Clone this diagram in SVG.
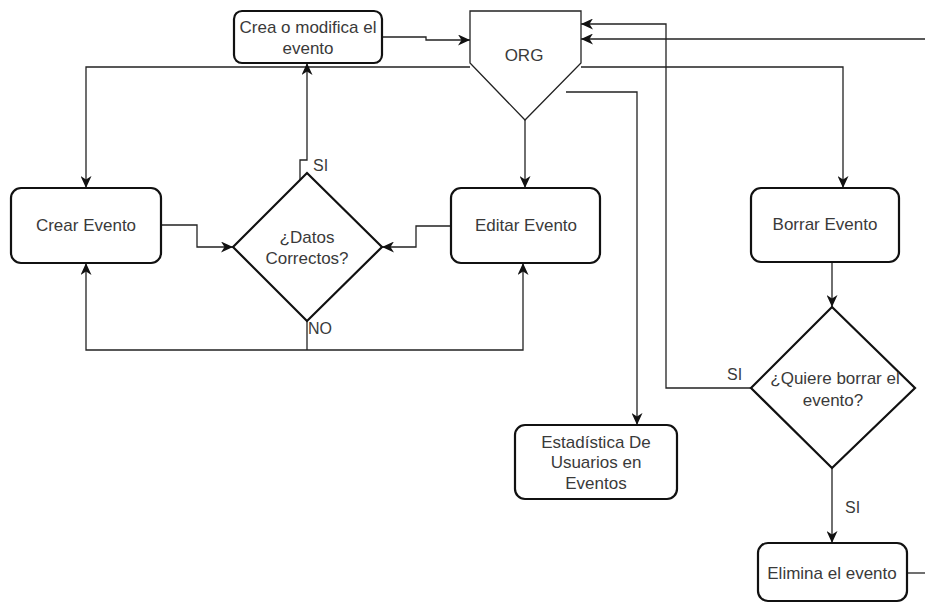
<svg xmlns="http://www.w3.org/2000/svg" width="925" height="603" viewBox="0 0 925 603">
<defs>
<marker id="arr" markerUnits="userSpaceOnUse" markerWidth="13" markerHeight="11" viewBox="0 0 13 11" refX="12" refY="5.5" orient="auto">
<path d="M0,0 L12,5.5 L0,11 L3.5,5.5 z" fill="#111"/>
</marker>
<style>
.box{fill:#fff;stroke:#111;stroke-width:2.2}
.shape{fill:#fff;stroke:#111;stroke-width:2.2}
.org{fill:#fff;stroke:#222;stroke-width:1.3}
.t{font-family:"Liberation Sans",Arial,sans-serif;font-size:17px;fill:#3a3a3a;text-anchor:middle}
.lbl{font-family:"Liberation Sans",Arial,sans-serif;font-size:16px;fill:#3a3a3a}
.c{fill:none;stroke:#222;stroke-width:1.3}
.ca{fill:none;stroke:#222;stroke-width:1.3;marker-end:url(#arr)}
</style>
</defs>
<rect width="925" height="603" fill="#fff"/>
<g id="connectors">
<path class="ca" d="M382,37 H426 V40 H470"/>
<path class="ca" d="M470,67 H86 V188"/>
<path class="ca" d="M581,67 H843 V188"/>
<path class="ca" d="M525,120 V188"/>
<path class="ca" d="M566,92 H637 V425"/>
<path class="ca" d="M161,225 H197 V247 H233"/>
<path class="ca" d="M451,226 H416 V247 H382"/>
<path class="ca" d="M300,187 V160 H307 V63"/>
<path class="c" d="M307,321 V350"/>
<path class="ca" d="M307,350 H86 V263"/>
<path class="ca" d="M307,350 H523 V263"/>
<path class="ca" d="M832,262 V307"/>
<path class="ca" d="M751,388 H666 V24 H581"/>
<path class="ca" d="M832,468 V543"/>
<path class="c" d="M907,573 H925"/>
<path class="ca" d="M925,39 H581"/>
<text class="lbl" x="313" y="171">SI</text>
<text class="lbl" x="308" y="334">NO</text>
<text class="lbl" x="727" y="380">SI</text>
<text class="lbl" x="845" y="513">SI</text>
</g>
<g id="crea">
<rect class="box" x="234" y="11" width="148" height="52" rx="8"/>
<text class="t" x="308" y="33">Crea o modifica el</text>
<text class="t" x="308" y="54">evento</text>
</g>
<g id="org">
<path class="org" d="M470,11 H581 V63 L525,120 L470,63 Z"/>
<text class="t" x="524" y="61">ORG</text>
</g>
<g id="crear">
<rect class="box" x="11" y="188" width="150" height="75" rx="10"/>
<text class="t" x="86" y="231">Crear Evento</text>
</g>
<g id="datos">
<path class="shape" d="M307,173 L382,247 L307,321 L233,247 Z"/>
<text class="t" x="307" y="243">¿Datos</text>
<text class="t" x="307" y="264">Correctos?</text>
</g>
<g id="editar">
<rect class="box" x="451" y="188" width="149" height="75" rx="10"/>
<text class="t" x="526" y="231">Editar Evento</text>
</g>
<g id="borrar">
<rect class="box" x="751" y="188" width="148" height="74" rx="10"/>
<text class="t" x="825" y="230">Borrar Evento</text>
</g>
<g id="quiere">
<path class="shape" d="M832,307 L915,388 L832,468 L751,388 Z"/>
<text class="t" x="835" y="384">¿Quiere borrar el</text>
<text class="t" x="833" y="406">evento?</text>
</g>
<g id="estadistica">
<rect class="box" x="515" y="425" width="162" height="74" rx="10"/>
<text class="t" x="596" y="448">Estadística De</text>
<text class="t" x="596" y="468">Usuarios en</text>
<text class="t" x="596" y="489">Eventos</text>
</g>
<g id="elimina">
<rect class="box" x="758" y="543" width="149" height="58" rx="10"/>
<text class="t" x="832" y="579">Elimina el evento</text>
</g>
</svg>
